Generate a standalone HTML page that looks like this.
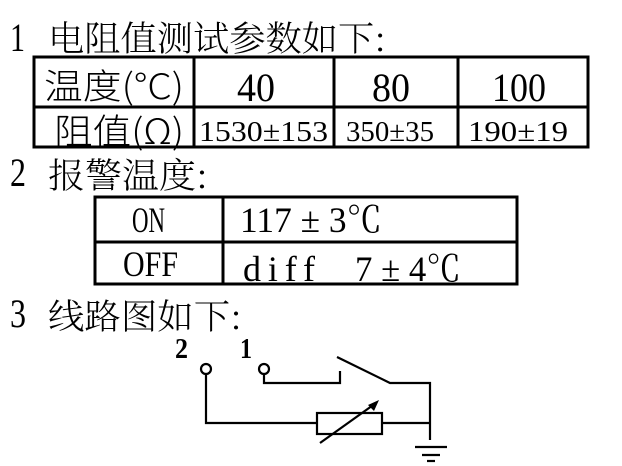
<!DOCTYPE html>
<html><head><meta charset="utf-8"><style>html,body{margin:0;padding:0;background:#fff}svg{display:block}</style></head>
<body>
<svg width="622" height="466" viewBox="0 0 622 466" xmlns="http://www.w3.org/2000/svg" font-family="Liberation Serif, Noto Serif CJK SC, serif" fill="#000">
<g font-size="40">
<text x="10" y="51" textLength="15" lengthAdjust="spacingAndGlyphs">1</text>
<text x="10" y="186" textLength="16" lengthAdjust="spacingAndGlyphs">2</text>
<text x="10" y="327" textLength="16" lengthAdjust="spacingAndGlyphs">3</text>
</g>
<g font-size="35" font-family="Noto Serif CJK SC, serif" font-weight="300">
<text x="48" y="51" textLength="338" lengthAdjust="spacingAndGlyphs">电阻值测试参数如下:</text>
<text x="48" y="188" textLength="160" lengthAdjust="spacingAndGlyphs">报警温度:</text>
<text x="48" y="329" textLength="194" lengthAdjust="spacingAndGlyphs">线路图如下:</text>
</g>
<g fill="none" stroke="#000" stroke-width="3">
<rect x="34" y="57" width="554" height="90"/>
<line x1="34" y1="107" x2="588" y2="107"/>
<line x1="194" y1="57" x2="194" y2="147"/>
<line x1="334" y1="57" x2="334" y2="147"/>
<line x1="458" y1="57" x2="458" y2="147"/>
<rect x="95" y="197" width="422" height="87"/>
<line x1="95" y1="242" x2="517" y2="242"/>
<line x1="223" y1="197" x2="223" y2="284"/>
</g>
<g font-size="35" font-family="Noto Sans CJK SC, sans-serif" font-weight="300">
<text x="44" y="99" textLength="140" lengthAdjust="spacingAndGlyphs">温度(°C)</text>
<text x="54" y="144" textLength="130" lengthAdjust="spacingAndGlyphs">阻值(Ω)</text>
</g>
<g font-size="40">
<text x="237" y="101" textLength="38" lengthAdjust="spacingAndGlyphs">40</text>
<text x="372" y="101" textLength="38" lengthAdjust="spacingAndGlyphs">80</text>
<text x="492" y="101" textLength="54" lengthAdjust="spacingAndGlyphs">100</text>
</g>
<g font-size="29">
<text x="199" y="141" textLength="129" lengthAdjust="spacingAndGlyphs">1530±153</text>
<text x="346" y="141" textLength="88" lengthAdjust="spacingAndGlyphs">350±35</text>
<text x="468" y="141" textLength="100" lengthAdjust="spacingAndGlyphs">190±19</text>
</g>
<g font-size="36">
<text x="132" y="232" textLength="33" lengthAdjust="spacingAndGlyphs">ON</text>
<text x="240" y="232" textLength="142" lengthAdjust="spacingAndGlyphs">117 ± 3℃</text>
<text x="123" y="276" textLength="55" lengthAdjust="spacingAndGlyphs">OFF</text>
<text x="243" y="281" textLength="72" lengthAdjust="spacing">diff</text>
<text x="355" y="281" textLength="106" lengthAdjust="spacingAndGlyphs">7 ± 4℃</text>
</g>
<g font-size="28" font-weight="bold">
<text x="175" y="358" textLength="13" lengthAdjust="spacingAndGlyphs">2</text>
<text x="240" y="358" textLength="12" lengthAdjust="spacingAndGlyphs">1</text>
</g>
<g fill="none" stroke="#000" stroke-width="2.2">
<circle cx="206" cy="369" r="5"/>
<circle cx="264" cy="369" r="5"/>
<polyline points="264,374 264,383 340,383 340,371"/>
<polyline points="337,357 390,383 430,383 430,440"/>
<polyline points="206,374 206,423 317,423"/>
<rect x="317" y="413" width="65" height="21"/>
<line x1="382" y1="423" x2="430" y2="423"/>
<line x1="320" y1="443" x2="376" y2="403"/>
<line x1="415" y1="447" x2="447" y2="447"/>
<line x1="422" y1="455" x2="440" y2="455"/>
<line x1="427" y1="461" x2="435" y2="461"/>
</g>
<polygon points="379,400 368,405 374,411" fill="#000"/>
</svg>
</body></html>
